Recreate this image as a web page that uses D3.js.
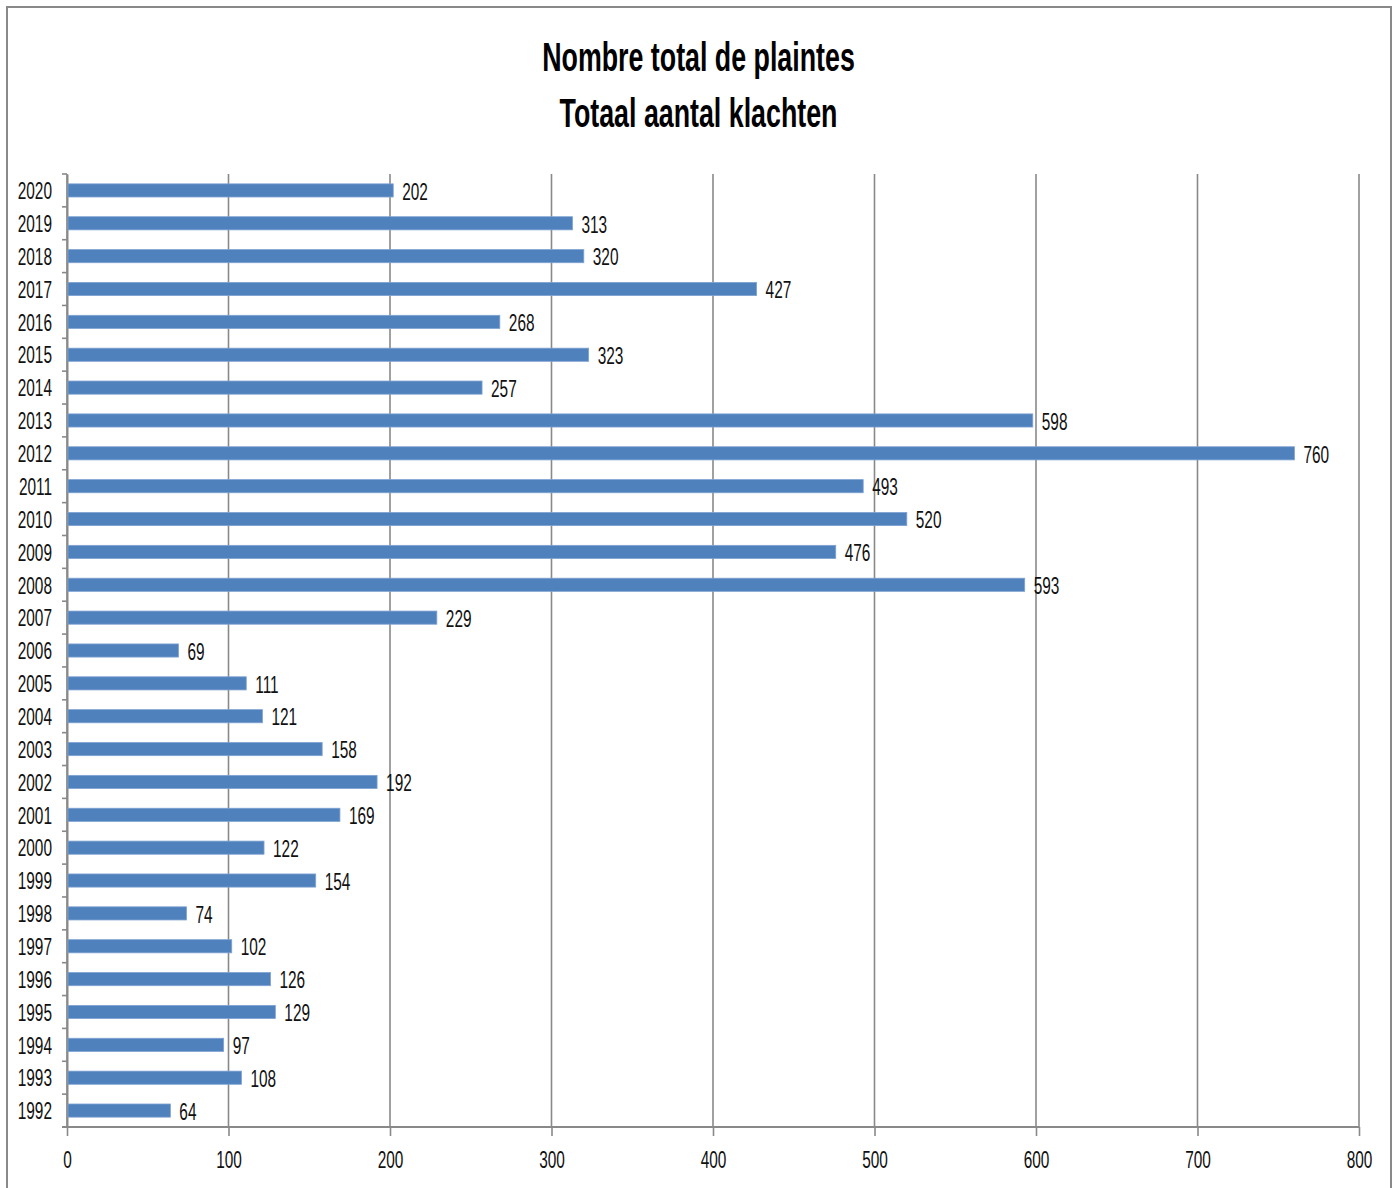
<!DOCTYPE html>
<html>
<head>
<meta charset="utf-8">
<script src="https://cdn.jsdelivr.net/npm/d3@7"></script>
<style>
  html, body { margin: 0; padding: 0; background: #fff; }
  svg { display: block; font-family: "Liberation Sans", Arial, sans-serif; }
  .tick line { stroke: #898989; }
  .domain { stroke: #898989; }
</style>
</head>
<body>
<div id="svg-container"></div>
<script>
////////////////////////////  Data  ////////////////////////////
const years = ["1992", "1993", "1994", "1995", "1996", "1997", "1998", "1999", "2000",
  "2001", "2002", "2003", "2004", "2005", "2006", "2007", "2008", "2009", "2010",
  "2011", "2012", "2013", "2014", "2015", "2016", "2017", "2018", "2019", "2020"];
const complaints = [64, 108, 97, 129, 126, 102, 74, 154, 122, 169, 192, 158, 121, 111, 69,
  229, 593, 476, 520, 493, 760, 598, 257, 323, 268, 427, 320, 313, 202];
const xTicks = [0, 100, 200, 300, 400, 500, 600, 700, 800];
const titleLines = ["Nombre total de plaintes", "Totaal aantal klachten"];

const data = years.map((y, i) => ({ year: y, value: complaints[i] }));

////////////////////////////  Init  ////////////////////////////
const width = 1397;
const height = 1188;
const margin = { top: 174, right: 38, bottom: 61, left: 67 };
const sx = 0.67; // horizontal squeeze, the source font is narrow
const fontSize = 23;
const gridColor = "#898989";

const svg = d3.select("#svg-container").append("svg")
  .attr("width", width)
  .attr("height", height);

// frame
svg.append("rect")
  .attr("x", 7).attr("y", 7)
  .attr("width", 1384).attr("height", height)
  .attr("fill", "#fff")
  .attr("stroke", gridColor)
  .attr("stroke-width", 2);

// scales
const xScale = d3.scaleLinear().domain([0, 800]).range([margin.left, width - margin.right]);
const yScale = d3.scaleBand()
  .domain(years.slice().reverse())
  .range([margin.top, height - margin.bottom])
  .paddingInner(0.6)
  .paddingOuter(0.3);

// grid
svg.append("g").attr("class", "grid")
  .selectAll("line")
  .data(xTicks)
  .join("line")
  .attr("x1", (d) => xScale(d)).attr("x2", (d) => xScale(d))
  .attr("y1", margin.top).attr("y2", height - margin.bottom)
  .attr("stroke", gridColor)
  .attr("stroke-width", 1.6);

// x axis
const xAxis = d3.axisBottom(xScale)
  .tickValues(xTicks)
  .tickSize(9)
  .tickSizeOuter(9)
  .tickPadding(16);

const gx = svg.append("g")
  .attr("transform", `translate(0,${height - margin.bottom})`)
  .call(xAxis);
gx.select(".domain").attr("stroke-width", 2).attr("d",
  `M${margin.left - 5},0H${width - margin.right}`);
gx.selectAll(".tick line").attr("stroke-width", 1.6);
gx.selectAll("text")
  .attr("font-size", fontSize)
  .attr("font-family", "Liberation Sans, Arial, sans-serif")
  .attr("fill", "#111")
  .attr("transform", `scale(${sx},1)`);

// y axis
const yAxis = d3.axisLeft(yScale).tickSize(0).tickPadding(15);
const gy = svg.append("g")
  .attr("transform", `translate(${margin.left},0)`)
  .call(yAxis);
gy.select(".domain").attr("stroke-width", 2);
gy.selectAll("text")
  .attr("font-size", fontSize)
  .attr("font-family", "Liberation Sans, Arial, sans-serif")
  .attr("fill", "#111")
  .attr("dy", "0.38em")
  .attr("x", -15 / sx)
  .attr("transform", `scale(${sx},1)`);

// category boundary ticks
const step = yScale.step();
const bounds = years.map((y) => yScale(y) - step * 0.3).concat([height - margin.bottom]);
svg.append("g")
  .selectAll("line")
  .data(bounds)
  .join("line")
  .attr("x1", margin.left - 5).attr("x2", margin.left)
  .attr("y1", (d) => d).attr("y2", (d) => d)
  .attr("stroke", gridColor)
  .attr("stroke-width", 1.6);

// bars
svg.append("g")
  .selectAll("rect")
  .data(data)
  .join("rect")
  .attr("x", xScale(0) + 1)
  .attr("y", (d) => yScale(d.year))
  .attr("width", (d) => xScale(d.value) - xScale(0) - 1)
  .attr("height", yScale.bandwidth())
  .attr("fill", "#4f81bd")
  .attr("stroke", "#7ea2d2")
  .attr("stroke-width", 0.8);

// value labels
svg.append("g")
  .selectAll("text")
  .data(data)
  .join("text")
  .attr("transform", (d) =>
    `translate(${xScale(d.value) + 9},${yScale(d.year) + yScale.bandwidth() / 2}) scale(${sx},1)`)
  .attr("dy", "0.4em")
  .attr("font-size", fontSize)
  .attr("fill", "#111")
  .text((d) => d.value);

// title
svg.append("g")
  .selectAll("text")
  .data(titleLines)
  .join("text")
  .attr("transform", (d, i) => `translate(698.5,${71 + i * 56}) scale(${sx},1)`)
  .attr("text-anchor", "middle")
  .attr("font-size", 40)
  .attr("font-weight", "bold")
  .attr("fill", "#000")
  .text((d) => d);
</script>
</body>
</html>
